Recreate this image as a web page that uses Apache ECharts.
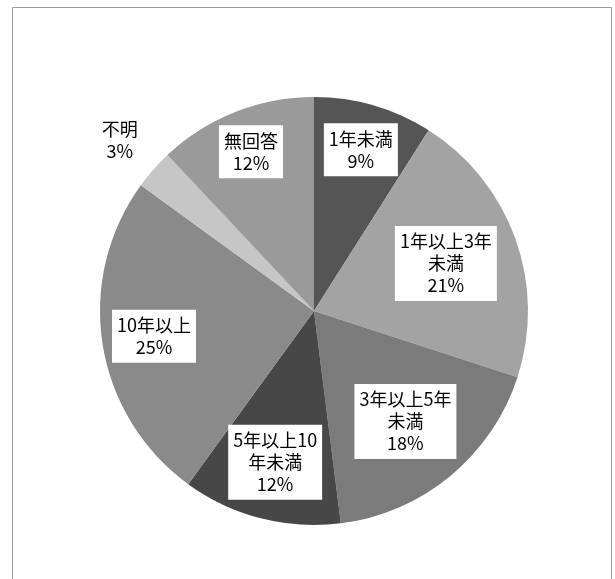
<!DOCTYPE html>
<html>
<head>
<meta charset="utf-8">
<script src="https://cdn.jsdelivr.net/npm/echarts@6/dist/echarts.min.js"></script>
<style>
  html, body { margin: 0; padding: 0; background: #fff; }
  #chart { width: 615px; height: 579px; }
</style>
</head>
<body>
<div id="chart"></div>
<script>
  // 勤続年数の割合
  var categories = ['1年未満', '1年以上3年未満', '3年以上5年未満', '5年以上10年未満', '10年以上', '不明', '無回答'];
  var labelNames = ['1年未満', '1年以上3年\n未満', '3年以上5年\n未満', '5年以上10\n年未満', '10年以上', '不明', '無回答'];
  var values = [9, 21, 18, 12, 25, 3, 12];

  var colors = ['#555555', '#a3a3a3', '#7b7b7b', '#474747', '#8a8a8a', '#c6c6c6', '#9a9a9a'];
  // label distance from centre, as a share of the radius
  var labelDist = [0.785, 0.655, 0.67, 0.73, 0.757, 1.21, 0.80];

  var CX = 314, CY = 311, R = 214;

  var chart = echarts.init(document.getElementById('chart'));

  var option = {
    backgroundColor: '#fff',
    animation: false,
    graphic: [{
      type: 'rect',
      shape: {x: 12.5, y: 7.5, width: 599, height: 600},
      style: {fill: 'none', stroke: '#9a9a9a', lineWidth: 1},
      silent: true
    }],
    series: [{
      type: 'pie',
      center: [CX, CY],
      radius: R,
      startAngle: 90,
      clockwise: true,
      avoidLabelOverlap: false,
      itemStyle: {borderWidth: 0},
      label: {
        show: true,
        position: 'inside',
        color: '#000',
        fontFamily: '"Noto Sans CJK JP", sans-serif',
        fontSize: 18,
        lineHeight: 22,
        backgroundColor: '#fff',
        padding: [5, 5, 4, 5],
        formatter: function (p) {
          return labelNames[p.dataIndex] + '\n' + values[p.dataIndex] + '%';
        }
      },
      labelLine: {show: false},
      labelLayout: function (p) {
        var r = p.labelRect;
        var vx = r.x + r.width / 2 - CX;
        var vy = r.y + r.height / 2 - CY;
        var len = Math.sqrt(vx * vx + vy * vy) || 1;
        var target = labelDist[p.dataIndex] * R;
        return {
          dx: vx / len * target - vx,
          dy: vy / len * target - vy
        };
      },
      data: categories.map(function (name, i) {
        var item = {name: name, value: values[i], itemStyle: {color: colors[i]}};
        if (name === '不明') {
          item.label = {backgroundColor: 'transparent'};
        }
        return item;
      })
    }]
  };

  chart.setOption(option);
</script>
</body>
</html>
